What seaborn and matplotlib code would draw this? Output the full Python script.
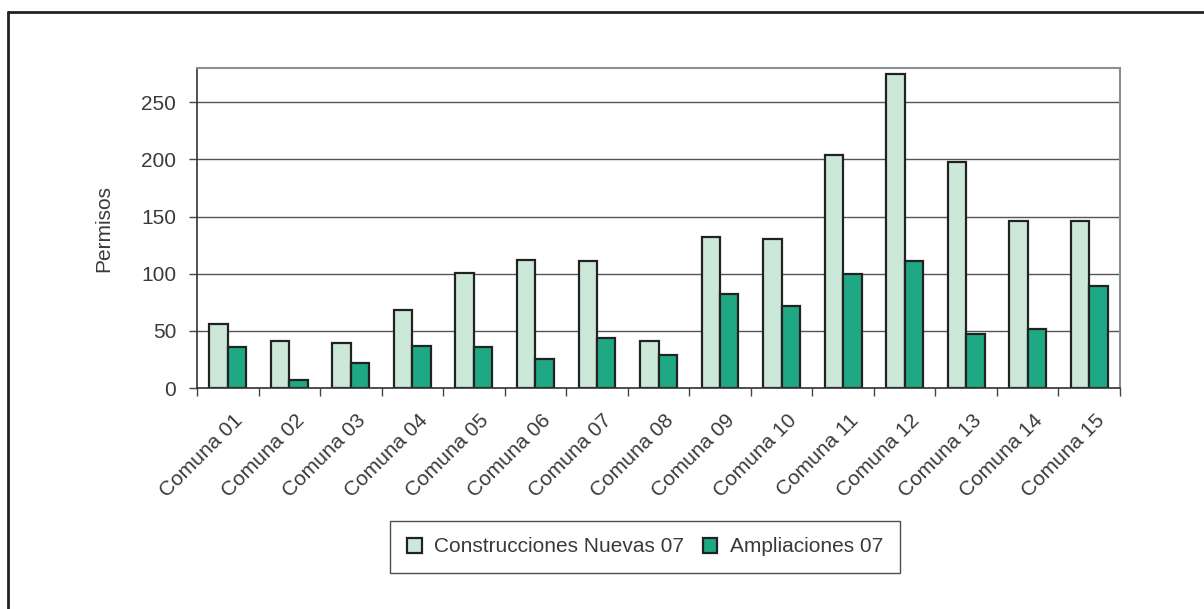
import matplotlib
matplotlib.use('Agg')
import matplotlib.pyplot as plt
import matplotlib.ticker as ticker
import matplotlib.transforms as mtrans
from matplotlib.lines import Line2D
import seaborn as sns
import pandas as pd

comunas = ['Comuna 01', 'Comuna 02', 'Comuna 03', 'Comuna 04', 'Comuna 05',
           'Comuna 06', 'Comuna 07', 'Comuna 08', 'Comuna 09', 'Comuna 10',
           'Comuna 11', 'Comuna 12', 'Comuna 13', 'Comuna 14', 'Comuna 15']
nuevas = [56, 41, 39, 68, 101, 112, 111, 41, 132, 130, 204, 275, 198, 146, 146]
ampliaciones = [36, 7, 22, 37, 36, 25, 44, 29, 82, 72, 100, 111, 47, 52, 89]
series = ['Construcciones Nuevas 07', 'Ampliaciones 07']

df = pd.DataFrame({'comuna': comunas * 2,
                   'serie': [series[0]] * len(comunas) + [series[1]] * len(comunas),
                   'permisos': nuevas + ampliaciones})

sns.set_style('white')
plt.rcParams['font.family'] = ['Liberation Sans', 'DejaVu Sans']
txt = '#3a3a3a'
fs = 15

fig = plt.figure(figsize=(12.04, 6.09), dpi=100)
ax = fig.add_axes([197 / 1204, 1 - 388 / 609, (1120 - 197) / 1204, (388 - 68) / 609])

sns.barplot(data=df, x='comuna', y='permisos', hue='serie', hue_order=series,
            palette=['#cce8d8', '#1fa884'], saturation=1, width=0.6, gap=0,
            edgecolor='#222222', linewidth=1.6, ax=ax, legend=True)

ax.set_xlim(-0.5, len(comunas) - 0.5)
ax.set_ylim(0, 280)
ax.set_yticks([0, 50, 100, 150, 200, 250])
ax.yaxis.grid(True, color='#555555', linewidth=1)
ax.set_axisbelow(True)

# x ticks at the boundaries, labels at the centres
ax.xaxis.set_major_locator(ticker.FixedLocator([i - 0.5 for i in range(len(comunas) + 1)]))
ax.xaxis.set_major_formatter(ticker.NullFormatter())
ax.xaxis.set_minor_locator(ticker.FixedLocator(range(len(comunas))))
ax.xaxis.set_minor_formatter(ticker.FixedFormatter(comunas))
ax.tick_params(axis='x', which='major', direction='out', length=6, width=1, color='#444444', bottom=True)
ax.tick_params(axis='x', which='minor', length=0, pad=15, labelsize=fs, labelcolor=txt)
shift = mtrans.ScaledTranslation(12 / 100, -9 / 100, fig.dpi_scale_trans)
for lab in ax.xaxis.get_minorticklabels():
    lab.set_rotation(45)
    lab.set_ha('right')
    lab.set_va('center')
    lab.set_rotation_mode('anchor')
    lab.set_transform(lab.get_transform() + shift)
ax.tick_params(axis='y', direction='out', length=6, width=1, color='#444444', left=True,
               pad=9, labelsize=fs, labelcolor=txt)

ax.set_xlabel('')
ax.set_ylabel('Permisos', fontsize=fs, color=txt, labelpad=20)

for s in ['left', 'bottom']:
    ax.spines[s].set_color('#333333')
    ax.spines[s].set_linewidth(1.2)
for s in ['top', 'right']:
    ax.spines[s].set_color('#8a8f96')
    ax.spines[s].set_linewidth(1.5)

leg = ax.legend(loc='center', bbox_to_anchor=(645 / 1204, 1 - 547 / 609),
                bbox_transform=fig.transFigure, ncol=2, fontsize=fs, frameon=True,
                fancybox=False, edgecolor='#222222', handlelength=0.7, handleheight=0.7,
                handletextpad=0.6, columnspacing=0.9, borderpad=0.8, borderaxespad=0)
leg.get_frame().set_linewidth(1.0)
for t in leg.get_texts():
    t.set_color(txt)

# outer frame (top and left only visible)
fig.add_artist(Line2D([8 / 1204, 8 / 1204], [0, 1 - 12 / 609], transform=fig.transFigure,
                      color='#222222', linewidth=2))
fig.add_artist(Line2D([8 / 1204, 1], [1 - 12 / 609, 1 - 12 / 609], transform=fig.transFigure,
                      color='#222222', linewidth=2))

fig.savefig('out.png', dpi=100)
